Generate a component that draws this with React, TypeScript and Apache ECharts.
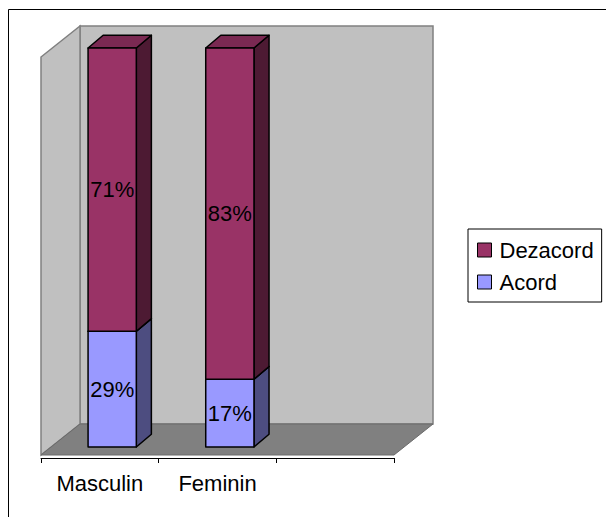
import React, { useEffect, useRef } from "react";
import * as echarts from "echarts";

const categories = ["Masculin", "Feminin", ""];
const acord = [29, 17];
const dezacord = [71, 83];
const seriesNames = ["Dezacord", "Acord"];

const FONT = 'Arial, "Liberation Sans", sans-serif';

const COLORS = {
  Acord: { front: "#9999FF", top: "#7A7ACC", side: "#4D4D80" },
  Dezacord: { front: "#993366", top: "#7A2952", side: "#4D1A33" },
};

function makeBar(colors: { front: string; top: string; side: string }) {
  return (params: any, api: any) => {
    const cat = api.value(0);
    const v0 = api.value(1);
    const v1 = api.value(2);
    const label = api.value(3);
    const base = api.coord([cat, v0]);
    const top = api.coord([cat, v1]);
    const bw = api.size([1, 0])[0];
    const w = bw * 0.41;
    const left = base[0] - bw * 0.1;
    const dx = bw * 0.128;
    const dy = -12.7;
    const stroke = { stroke: "#000", lineWidth: 1.5, lineJoin: "round" };
    return {
      type: "group",
      children: [
        {
          type: "polygon",
          shape: {
            points: [
              [left + w, top[1]],
              [left + w + dx, top[1] + dy],
              [left + w + dx, base[1] + dy],
              [left + w, base[1]],
            ],
          },
          style: { fill: colors.side, ...stroke },
        },
        {
          type: "polygon",
          shape: {
            points: [
              [left, top[1]],
              [left + w, top[1]],
              [left + w + dx, top[1] + dy],
              [left + dx, top[1] + dy],
            ],
          },
          style: { fill: colors.top, ...stroke },
        },
        {
          type: "rect",
          shape: { x: left, y: top[1], width: w, height: base[1] - top[1] },
          style: { fill: colors.front, ...stroke },
        },
        {
          type: "text",
          x: left + w / 2,
          y: (top[1] + base[1]) / 2,
          style: {
            text: label + "%",
            fill: "#000",
            font: `22px ${FONT}`,
            align: "center",
            verticalAlign: "middle",
          },
        },
      ],
    };
  };
}

export default function App() {
  const ref = useRef<HTMLDivElement>(null);
  useEffect(() => {
    if (!ref.current) return;
    const chart = echarts.init(ref.current, null, { renderer: "svg" });

    const acordData = acord.map((v, i) => [i, 0, v, v]);
    const dezData = dezacord.map((v, i) => [i, acord[i], acord[i] + v, v]);

    const option: any = {
      animation: false,
      backgroundColor: "#fff",
      grid: { left: 41, right: 212, top: 48, bottom: 70 },
      xAxis: {
        type: "category",
        data: categories,
        offset: 11,
        axisLine: { onZero: false, lineStyle: { color: "#000", width: 1 } },
        axisTick: { show: true, length: 5, interval: 0, lineStyle: { color: "#000" } },
        axisLabel: { color: "#000", fontSize: 22, fontFamily: FONT, margin: 14, interval: 0 },
        splitLine: { show: false },
      },
      yAxis: { type: "value", min: 0, max: 100, show: false },
      legend: {
        data: seriesNames.map((n) => ({ name: n, icon: "rect" })),
        orient: "vertical",
        left: 468,
        top: 229,
        padding: [10, 8, 9, 9],
        itemWidth: 14,
        itemHeight: 14,
        itemGap: 10,
        borderColor: "#000",
        borderWidth: 1,
        backgroundColor: "#fff",
        itemStyle: { borderColor: "#000", borderWidth: 1 },
        textStyle: { color: "#000", fontSize: 22, fontFamily: FONT, lineHeight: 22, padding: [0, 0, 0, 3] },
        selectedMode: false,
      },
      graphic: [
        { type: "line", shape: { x1: 8.5, y1: 9.5, x2: 8.5, y2: 517 }, style: { stroke: "#000", lineWidth: 1 } },
        { type: "line", shape: { x1: 8.5, y1: 9.5, x2: 606, y2: 9.5 }, style: { stroke: "#000", lineWidth: 1 } },
      ],
      series: [
        {
          type: "custom",
          name: "walls",
          silent: true,
          data: [[0, 0]],
          z: 1,
          renderItem: (params: any) => {
            const cs = params.coordSys;
            const gx = cs.x;
            const gw = cs.width;
            const bottom = cs.y + cs.height;
            const fy = bottom + 8;
            const ddx = 39;
            const ddy = -31;
            const wallTop = cs.y - 22;
            const wall = { fill: "#C0C0C0", stroke: "#808080", lineWidth: 1.5 };
            return {
              type: "group",
              children: [
                {
                  type: "polygon",
                  shape: {
                    points: [
                      [gx + ddx, wallTop],
                      [gx + gw + ddx, wallTop],
                      [gx + gw + ddx, fy + ddy],
                      [gx + ddx, fy + ddy],
                    ],
                  },
                  style: wall,
                },
                {
                  type: "polygon",
                  shape: {
                    points: [
                      [gx, wallTop - ddy],
                      [gx + ddx, wallTop],
                      [gx + ddx, fy + ddy],
                      [gx, fy],
                    ],
                  },
                  style: wall,
                },
                {
                  type: "polygon",
                  shape: {
                    points: [
                      [gx, fy],
                      [gx + gw, fy],
                      [gx + gw + ddx, fy + ddy],
                      [gx + ddx, fy + ddy],
                    ],
                  },
                  style: { fill: "#808080", stroke: "#6a6a6a", lineWidth: 1 },
                },
              ],
            };
          },
        },
        {
          type: "custom",
          name: "Acord",
          z: 2,
          itemStyle: { color: COLORS.Acord.front, borderColor: "#000", borderWidth: 1 },
          data: acordData,
          renderItem: makeBar(COLORS.Acord),
        },
        {
          type: "custom",
          name: "Dezacord",
          z: 3,
          itemStyle: { color: COLORS.Dezacord.front, borderColor: "#000", borderWidth: 1 },
          data: dezData,
          renderItem: makeBar(COLORS.Dezacord),
        },
      ],
    };
    chart.setOption(option);
    return () => chart.dispose();
  }, []);
  return <div ref={ref} style={{ width: 606, height: 517, position: "absolute", left: 0, top: 0 }} />;
}
